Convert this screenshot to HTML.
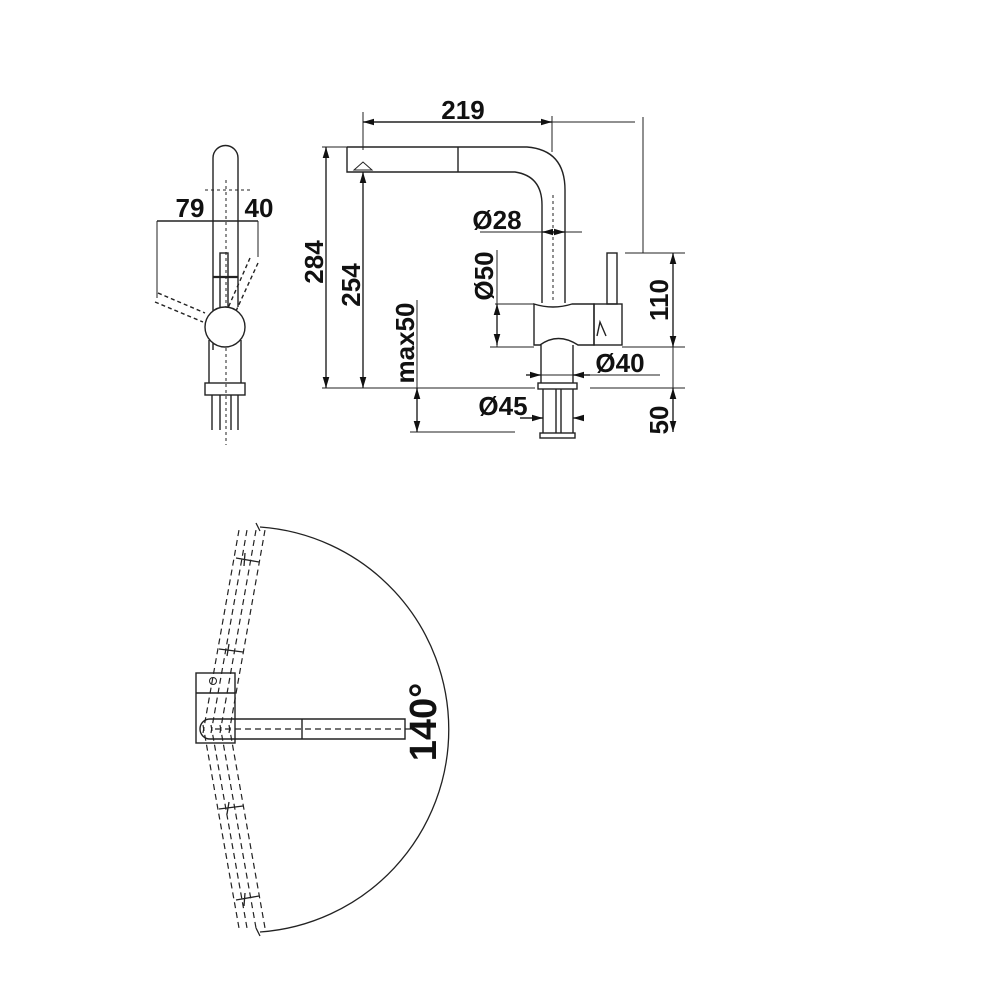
<!DOCTYPE html>
<html><head><meta charset="utf-8"><style>
html,body{margin:0;padding:0;background:#fff}
svg{display:block}
text{font-family:"Liberation Sans",Arial,sans-serif;font-size:26px;font-weight:bold;fill:#111}
</style></head><body>
<svg width="1000" height="1000" viewBox="0 0 1000 1000" xmlns="http://www.w3.org/2000/svg">
<defs>
<marker id="a" viewBox="0 0 10 6" refX="10" refY="3" markerWidth="8" markerHeight="5" orient="auto-start-reverse"><path d="M0,0L10,3L0,6z" fill="#111"/></marker>
</defs>
<g fill="none" stroke="#222" stroke-width="1.4">
<!-- LEFT FIGURE -->
<path d="M213,350 V158 A12.5,12.5 0 0 1 238,158 V307"/>
<line x1="226" y1="180" x2="226" y2="445" stroke-dasharray="3,3" stroke-width="1"/>
<line x1="205" y1="190" x2="250" y2="190" stroke-dasharray="3,3" stroke-width="1"/>
<line x1="157" y1="221" x2="258" y2="221"/>
<line x1="157" y1="221" x2="157" y2="298" stroke-width="1"/>
<line x1="258" y1="221" x2="258" y2="257" stroke-width="1"/>
<rect x="220" y="253" width="8" height="57"/>
<line x1="213" y1="277" x2="238" y2="277" stroke-width="2.2"/>
<path d="M158,293 L205,313 M155,302 L203,322" stroke-dasharray="4,3"/>
<path d="M250,258 L228,308 M258,263 L236,311" stroke-dasharray="4,3"/>
<circle cx="225" cy="327" r="20" fill="#fff"/>
<path d="M209,340 V383 M241,340 V383"/>
<rect x="205" y="383" width="40" height="12"/>
<path d="M212,395 V430 M238,395 V430 M220,395 V430 M231,395 V430"/>

<!-- MAIN FIGURE -->
<line x1="363" y1="122" x2="552" y2="122" marker-start="url(#a)" marker-end="url(#a)"/>
<line x1="552" y1="122" x2="635" y2="122" stroke-width="1"/>
<line x1="363" y1="112" x2="363" y2="150" stroke-width="1"/>
<line x1="552" y1="116" x2="552" y2="152" stroke-width="1"/>
<line x1="643" y1="117" x2="643" y2="253" stroke-width="1"/>
<path d="M347,147 H527 Q565,150 565,190 V303"/>
<path d="M347,147 V172 H515 Q542,176 542,205 V303"/>
<line x1="458" y1="147" x2="458" y2="172"/>
<path d="M354,170 L363,162 L372,170 Z" stroke-width="1"/>
<line x1="553" y1="195" x2="553" y2="300" stroke-dasharray="3,3" stroke-width="1"/>
<path d="M534,304 Q553,310 572,304 H594 V345 H578 Q558,332 540,345 H534 Z"/>
<rect x="594" y="304" width="28" height="41"/>
<rect x="607" y="253" width="10" height="51"/>
<path d="M597,336 L600,322 L606,336"/>
<path d="M541,345 V383 M573,345 V383"/>
<rect x="538" y="383" width="39" height="6"/>
<path d="M543,389 V433 M556,389 V433 M561,389 V433 M573,389 V433"/>
<rect x="540" y="433" width="35" height="5"/>
<line x1="326" y1="147" x2="326" y2="388" marker-start="url(#a)" marker-end="url(#a)"/>
<line x1="322" y1="147" x2="347" y2="147" stroke-width="1"/>
<line x1="363" y1="172" x2="363" y2="388" marker-start="url(#a)" marker-end="url(#a)"/>
<line x1="322" y1="388" x2="535" y2="388" stroke-width="1"/>
<line x1="590" y1="388" x2="685" y2="388" stroke-width="1"/>
<line x1="417" y1="300" x2="417" y2="388" stroke-width="1"/>
<line x1="417" y1="388" x2="417" y2="432" marker-start="url(#a)" marker-end="url(#a)"/>
<line x1="410" y1="432" x2="515" y2="432" stroke-width="1"/>
<line x1="480" y1="232" x2="542" y2="232" stroke-width="1"/>
<line x1="542" y1="232" x2="565" y2="232" marker-start="url(#a)" marker-end="url(#a)"/>
<line x1="565" y1="232" x2="582" y2="232" stroke-width="1"/>
<line x1="497" y1="250" x2="497" y2="347" stroke-width="1"/>
<line x1="497" y1="304" x2="497" y2="345" marker-start="url(#a)" marker-end="url(#a)"/>
<line x1="495" y1="304" x2="534" y2="304" stroke-width="1"/>
<line x1="490" y1="347" x2="534" y2="347" stroke-width="1"/>
<line x1="526" y1="375" x2="541" y2="375" marker-end="url(#a)"/>
<line x1="541" y1="375" x2="573" y2="375" stroke-width="1"/>
<line x1="590" y1="375" x2="573" y2="375" marker-end="url(#a)"/>
<line x1="590" y1="375" x2="660" y2="375" stroke-width="1"/>
<line x1="520" y1="418" x2="543" y2="418" marker-end="url(#a)"/>
<line x1="583" y1="418" x2="573" y2="418" marker-end="url(#a)"/>
<line x1="625" y1="253" x2="685" y2="253" stroke-width="1"/>
<line x1="622" y1="347" x2="685" y2="347" stroke-width="1"/>
<line x1="673" y1="253" x2="673" y2="347" marker-start="url(#a)" marker-end="url(#a)"/>
<line x1="673" y1="347" x2="673" y2="388" stroke-width="1"/>
<line x1="673" y1="388" x2="673" y2="432" marker-start="url(#a)" marker-end="url(#a)"/>

<!-- BOTTOM VIEW -->
<path d="M260,527 A203,203 0 0 1 260,932" stroke-width="1.3"/>
<path d="M256,523 L260,531 M256,928 L260,936" stroke-width="1.3"/>
<rect x="196" y="673" width="39" height="70"/>
<line x1="196" y1="693" x2="235" y2="693"/>
<circle cx="213" cy="681" r="3.5" stroke-width="1"/>
<path d="M405,719 H210 A10,10 0 0 0 210,739 H405 Z"/>
<line x1="302" y1="719" x2="302" y2="739"/>
<line x1="215" y1="729" x2="412" y2="729" stroke-dasharray="6,4" stroke-width="1.2"/>
<g stroke-dasharray="6,4" stroke-width="1.2">
<path d="M203,733 L239,530 M211,733 L247,530 M220,733 L256,530 M229,733 L265,530"/>
<path d="M203,725 L239,928 M211,725 L247,928 M220,725 L256,928 M229,725 L265,928"/>
</g>
<path d="M236,558 L259,562 M245,553 L244,566 M219,649 L243,652 M229,644 L227,656" stroke-width="1.3"/>
<path d="M219,809 L243,806 M229,802 L227,814 M236,900 L259,896 M245,893 L244,906" stroke-width="1.3"/>
</g>

<text x="190" y="217" text-anchor="middle">79</text>
<text x="259" y="217" text-anchor="middle">40</text>
<text x="463" y="119" text-anchor="middle">219</text>
<text x="497" y="229" text-anchor="middle">Ø28</text>
<text x="620" y="372" text-anchor="middle">Ø40</text>
<text x="503" y="415" text-anchor="middle">Ø45</text>
<text transform="translate(323,262) rotate(-90)" text-anchor="middle">284</text>
<text transform="translate(360,285) rotate(-90)" text-anchor="middle">254</text>
<text transform="translate(414,343) rotate(-90)" text-anchor="middle">max50</text>
<text transform="translate(493,276) rotate(-90)" text-anchor="middle">Ø50</text>
<text transform="translate(668,300) rotate(-90)" text-anchor="middle">110</text>
<text transform="translate(668,420) rotate(-90)" text-anchor="middle">50</text>
<text transform="translate(436,722) rotate(-90)" text-anchor="middle" style="font-size:38px">140°</text>
</svg>
</body></html>
